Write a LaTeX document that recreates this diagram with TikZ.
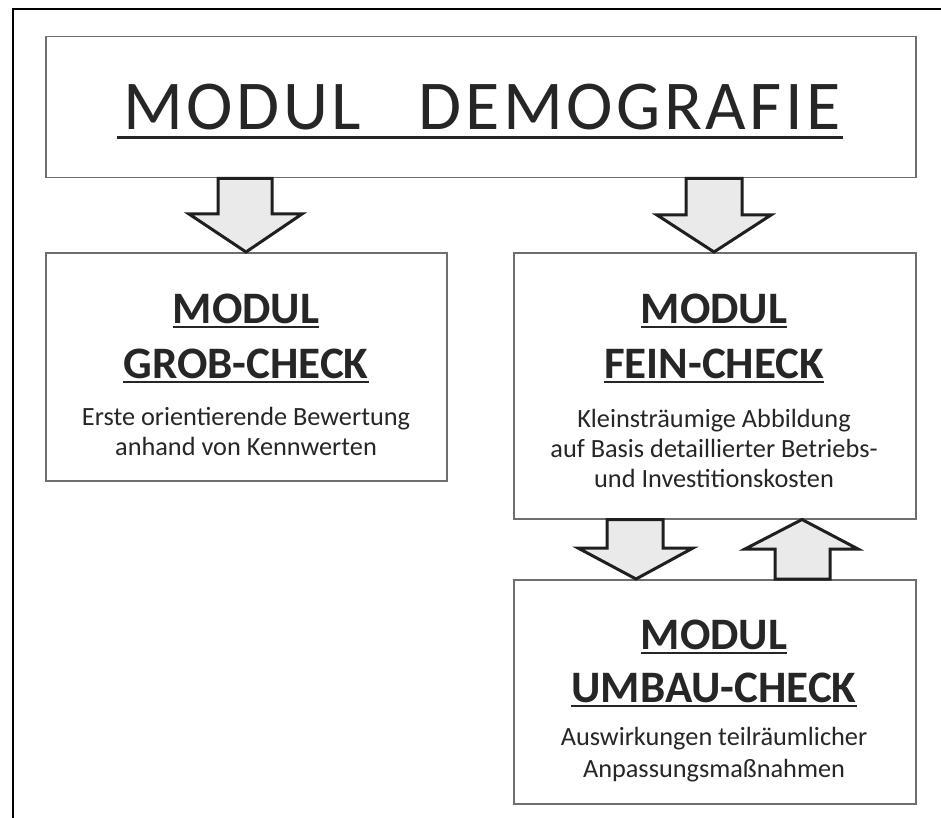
\documentclass[tikz,border=0pt]{standalone}
\usepackage{fontspec}
\setmainfont{Carlito}
\newfontfamily\titlefont[LetterSpace=5]{Carlito}
\definecolor{txt}{HTML}{262626}
\definecolor{boxline}{HTML}{6E6E6E}
\definecolor{arrowfill}{HTML}{EAEAEA}
\begin{document}
\begin{tikzpicture}[x=1pt,y=-1pt,
  box/.style={draw=boxline, line width=1.5pt, fill=white, inner sep=0pt, anchor=north west},
  blk/.style={draw=black!88, line width=3pt, fill=arrowfill, line join=miter},
  head/.style={font=\bfseries\fontsize{45}{54}\selectfont, text=txt, inner sep=0pt, anchor=base},
  body/.style={font=\fontsize{26.3}{30}\selectfont, text=txt, inner sep=0pt, anchor=base},
  titletext/.style={font=\titlefont\fontsize{70}{84}\selectfont, text=txt, inner sep=0pt, anchor=base},
  uline/.style={draw=txt, line width=2.6pt},
  tline/.style={draw=txt, line width=3pt}]
\useasboundingbox (0,0) rectangle (941,818);
% outer frame (cropped at right and bottom)
\draw[black, line width=2.2pt] (13,830) -- (13,9) -- (950,9);

% boxes
\node[box, minimum width=870pt, minimum height=141pt] (top) at (45,36) {};
\node[box, minimum width=401pt, minimum height=228pt] (grob) at (45,252) {};
\node[box, minimum width=402pt, minimum height=266pt] (fein) at (513,252) {};
\node[box, minimum width=402pt, minimum height=224pt] (umbau) at (513,579) {};

% title
\node[titletext] (title) at (482,130) {MODUL\hspace{58pt}DEMOGRAFIE};
\draw[tline] ([xshift=-6pt,yshift=-8pt]title.base west) -- ([xshift=2pt,yshift=-8pt]title.base east);

% GROB-CHECK
\node[head] (g1) at (246,323) {MODUL};
\node[head] (g2) at (246,378) {GROB-CHECK};
\node[body] (g3) at (246,425) {Erste orientierende Bewertung};
\node[body] (g4) at (246,455) {anhand von Kennwerten};
\draw[uline] ([yshift=-4pt]g1.base west) -- ([yshift=-4pt]g1.base east);
\draw[uline] ([yshift=-4pt]g2.base west) -- ([yshift=-4pt]g2.base east);

% FEIN-CHECK
\node[head] (f1) at (714,323) {MODUL};
\node[head] (f2) at (714,378) {FEIN-CHECK};
\node[body] (f3) at (714,427) {Kleinsträumige Abbildung};
\node[body] (f4) at (714,457) {auf Basis detaillierter Betriebs-};
\node[body] (f5) at (714,487) {und Investitionskosten};
\draw[uline] ([yshift=-4pt]f1.base west) -- ([yshift=-4pt]f1.base east);
\draw[uline] ([yshift=-4pt]f2.base west) -- ([yshift=-4pt]f2.base east);

% UMBAU-CHECK
\node[head] (u1) at (714,649) {MODUL};
\node[head] (u2) at (714,702) {UMBAU-CHECK};
\node[body] (u3) at (714,745) {Auswirkungen teilräumlicher};
\node[body] (u4) at (714,777) {Anpassungsmaßnahmen};
\draw[uline] ([yshift=-4pt]u1.base west) -- ([yshift=-4pt]u1.base east);
\draw[uline] ([yshift=-4pt]u2.base west) -- ([yshift=-4pt]u2.base east);

% block arrows
% top -> grob
\draw[blk] (top.south -| 218,0) -- (218,214) -- (189,214) -- (grob.north -| 246,0)
  -- (302,214) -- (272,214) -- (top.south -| 272,0) -- cycle;
% top -> fein
\draw[blk] (top.south -| 686,0) -- (686,215) -- (657,215) -- (fein.north -| 714,0)
  -- (771,215) -- (742,215) -- (top.south -| 742,0) -- cycle;
% fein -> umbau
\draw[blk] (fein.south -| 607,0) -- (607,548) -- (578,548) -- (umbau.north -| 636,0)
  -- (693,548) -- (663,548) -- (fein.south -| 663,0) -- cycle;
% umbau -> fein
\draw[blk] (umbau.north -| 775,0) -- (775,549) -- (745,549) -- (fein.south -| 802,0)
  -- (858,549) -- (830,549) -- (umbau.north -| 830,0) -- cycle;
\end{tikzpicture}
\end{document}
